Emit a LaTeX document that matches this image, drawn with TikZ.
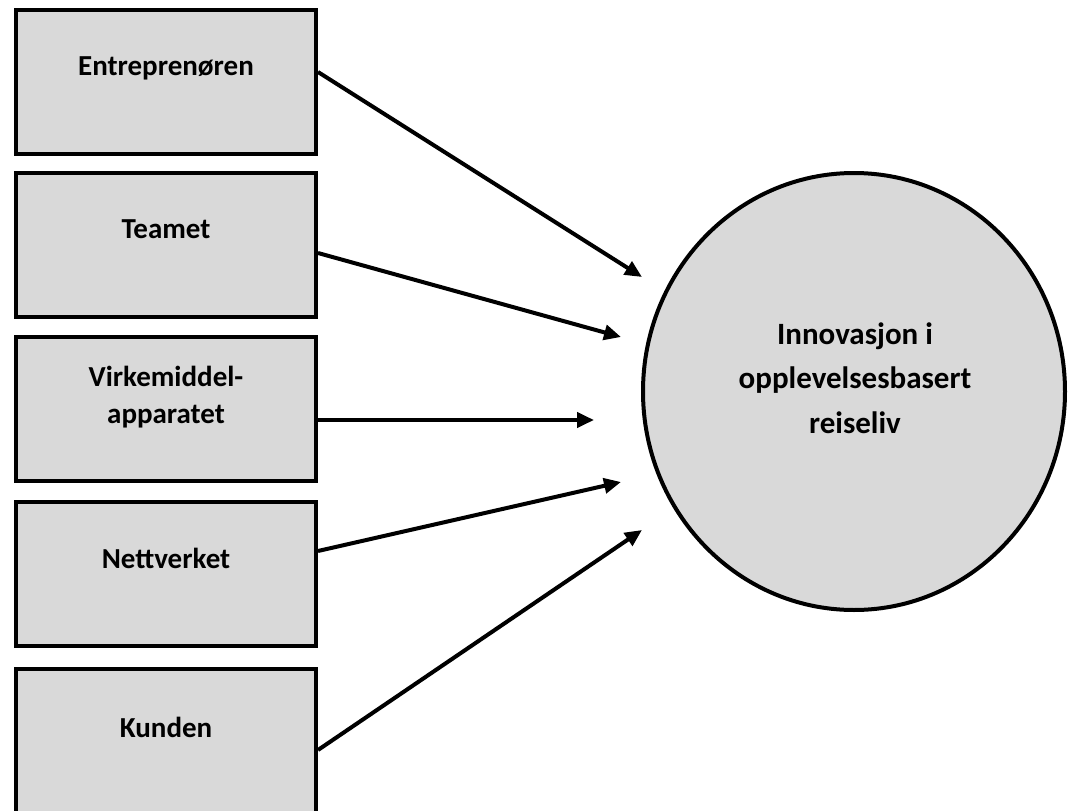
\documentclass[tikz,border=0pt]{standalone}
\usepackage{fontspec}
\setmainfont{Carlito}
\usetikzlibrary{arrows.meta,shapes.geometric}
\definecolor{boxgray}{HTML}{D9D9D9}
\tikzset{
  box/.style={draw=black, fill=boxgray, line width=4pt, minimum width=300pt, minimum height=144pt, inner sep=0pt},
  lbl/.style={font=\fontsize{29}{37}\selectfont\bfseries, align=center, inner sep=0pt},
  clbl/.style={font=\fontsize{31}{44.5}\selectfont\bfseries, align=center, inner sep=0pt},
  circ/.style={ellipse, draw=black, fill=boxgray, line width=4pt, minimum width=422pt, minimum height=437pt, inner sep=0pt},
  arr/.style={line width=4pt, -{Triangle[length=17pt,width=15pt]}}
}
\begin{document}
\begin{tikzpicture}[x=1pt,y=-1pt]
\useasboundingbox (0,0) rectangle (1069,811);
\begin{scope}
\clip (0,0) rectangle (1069,811);
\node[box] (b1) at (166,82) {};
\node[box] (b2) at (166,244.5) {};
\node[box] (b3) at (166,409) {};
\node[box] (b4) at (166,574) {};
\node[box] (b5) at (166,741) {};
\node[circ] (c) at (854,391.5) {};
\end{scope}
\node[lbl] (t1) at (166,68) {Entreprenøren};
\node[lbl] (t2) at (166,229) {Teamet};
\node[lbl] (t3) at (166,397) {Virkemiddel-\\apparatet};
\node[lbl] (t4) at (166,558) {Nettverket};
\node[lbl] (t5) at (166,727) {Kunden};
\node[clbl] (tc) at (855,378) {Innovasjon i\\opplevelsesbasert\\reiseliv};
\coordinate (e1) at (642,277);
\coordinate (e2) at (621,337);
\coordinate (e3) at (594,420);
\coordinate (e4) at (621,482);
\coordinate (e5) at (642,530);
\draw[arr] ([yshift=10pt]b1.east) -- (e1);
\draw[arr] ([yshift=-8.5pt]b2.east) -- (e2);
\draw[arr] ([yshift=-11pt]b3.east) -- (e3);
\draw[arr] ([yshift=23pt]b4.east) -- (e4);
\draw[arr] ([yshift=-9pt]b5.east) -- (e5);
\end{tikzpicture}
\end{document}
